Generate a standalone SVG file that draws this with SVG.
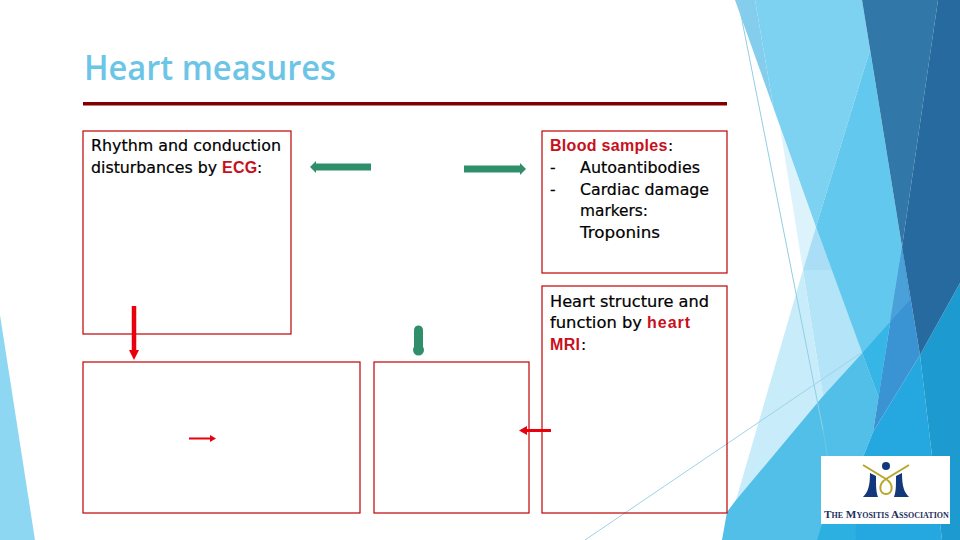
<svg xmlns="http://www.w3.org/2000/svg" width="960" height="540" viewBox="0 0 960 540">
<style>
text{font-family:"DejaVu Sans","Liberation Sans",sans-serif}
.b{font-size:15.5px;fill:#000;stroke:#000;stroke-width:.2}
.r{font-family:"Liberation Sans",sans-serif;font-size:16px;letter-spacing:.3px;fill:#c8101c;font-weight:700}
.box{fill:none;stroke:#c00000;stroke-width:1.2}
.g{stroke:#2f8f6b;fill:none}
.gh{fill:#2f8f6b}
.red{stroke:#e8000d;fill:none}
.redh{fill:#e8000d}
</style>
<rect width="960" height="540" fill="#fff"/>
<g id="background">
<polygon points="0,315 35,540 0,540" fill="#8dd7f2"/>
<polygon points="780,127 816,227 803,270" fill="#dcf3fb"/>
<polygon points="803,270 816,227 832,270" fill="#a9def6"/>
<polygon points="803,270 832,270 863,353 823,396" fill="#b4e4f8"/>
<polygon points="803,270 823,396 736,500" fill="#c8ecf9"/>
<polygon points="735,0 755,0 773.500,108" fill="#84cdec"/>
<polygon points="755,0 862,0 870,50 816,227 773.500,108" fill="#7dd2f1"/>
<polygon points="870,50 902,247 878.500,397 816,227" fill="#62c8ee"/>
<polygon points="862.300,353 890,322 878.500,397" fill="#35b6e6"/>
<polygon points="862.300,353 878.500,397 873,432 860,465 855,540 722,540 727,512 736,500 823,396" fill="#52bfe9"/>
<polygon points="822,524 817,540 855,540 858,524" fill="#2cb0e2"/>
<polygon points="920,355 942,540 855,540 860,465 873,432" fill="#25a8df"/>
<polygon points="902,247 920,355 873,432" fill="#3a93d2"/>
<polygon points="902,247 910,300 890,322" fill="#4aa0d9"/>
<polygon points="920,355 960,283 960,540 942,540" fill="#1d9bd0"/>
<polygon points="862,0 938,0 902,247" fill="#3178a8"/>
<polygon points="938,0 960,0 960,283 920,355 902,247" fill="#266a9f"/>
<line x1="738" y1="0" x2="823" y2="430" stroke="#8fcfe4" stroke-width="1"/>
<line x1="823" y1="430" x2="835" y2="500" stroke="#6fc6e6" stroke-width="1"/>
<line x1="585" y1="540" x2="861" y2="353" stroke="#9dd3e6" stroke-width="1"/>
</g>
<g id="title">
<text x="84" y="80" style="font-size:34px;font-weight:600;fill:#6cc5e6;font-family:'Open Sans','DejaVu Sans',sans-serif" textLength="252" lengthAdjust="spacingAndGlyphs">Heart measures</text>
<rect x="83" y="102" width="644" height="3.500" fill="#7f0000"/>
</g>
<g id="node-ecg">
<rect class="box" x="83" y="131" width="208" height="203"/>
<text class="b" x="91" y="151" textLength="190" lengthAdjust="spacingAndGlyphs">Rhythm and conduction</text>
<text class="b" x="91" y="173" textLength="126" lengthAdjust="spacingAndGlyphs">disturbances by</text>
<text class="r" x="222" y="173">ECG</text>
<text class="b" x="257" y="173">:</text>
</g>
<g id="node-blood">
<rect class="box" x="542" y="131" width="185" height="142"/>
<text class="r" x="550" y="151">Blood samples</text>
<text class="b" x="668" y="151">:</text>
<text class="b" x="550" y="173">-</text>
<text class="b" x="580" y="173" textLength="120" lengthAdjust="spacingAndGlyphs">Autoantibodies</text>
<text class="b" x="550" y="195">-</text>
<text class="b" x="580" y="195" textLength="129" lengthAdjust="spacingAndGlyphs">Cardiac damage</text>
<text class="b" x="580" y="216" textLength="68" lengthAdjust="spacingAndGlyphs">markers:</text>
<text class="b" x="580" y="238" textLength="80" lengthAdjust="spacingAndGlyphs">Troponins</text>
</g>
<g id="node-mri">
<rect class="box" x="542" y="286" width="185" height="227"/>
<text class="b" x="550" y="307" textLength="159" lengthAdjust="spacingAndGlyphs">Heart structure and</text>
<text class="b" x="550" y="328" textLength="92" lengthAdjust="spacingAndGlyphs">function by</text>
<text class="r" x="647" y="328" style="letter-spacing:1px">heart</text>
<text class="r" x="550" y="350">MRI</text>
<text class="b" x="581" y="350">:</text>
</g>
<g id="node-bottom-left"><rect class="box" x="83" y="362" width="277" height="151"/></g>
<g id="node-bottom-middle"><rect class="box" x="374" y="362" width="155" height="151"/></g>
<g id="connectors">
<line class="g" x1="371" y1="167" x2="315" y2="167" stroke-width="7"/>
<polygon class="gh" points="310,167 316,161 316,173"/>
<line class="g" x1="464" y1="169" x2="521" y2="169" stroke-width="7"/>
<polygon class="gh" points="526,169 520,163 520,175"/>
<line class="g" x1="418.500" y1="330" x2="418.500" y2="350" stroke-width="9" stroke-linecap="round"/>
<circle class="gh" cx="418.500" cy="350" r="5.500"/>
<line class="red" x1="134" y1="306" x2="134" y2="351" stroke-width="4.500"/>
<polygon class="redh" points="134,360 129,350 139,350"/>
<line class="red" x1="189" y1="438.500" x2="211" y2="438.500" stroke-width="2"/>
<polygon class="redh" points="216,438.500 210,435 210,442"/>
<line class="red" x1="525" y1="430.500" x2="551" y2="430.500" stroke-width="3"/>
<polygon class="redh" points="519,430.500 527,426 527,435"/>
</g>
<g id="logo">
<rect x="821" y="456" width="129" height="68" fill="#fff"/>
<circle cx="886" cy="466" r="4" fill="#12377a"/>
<path d="M870,473L876,476C876,486 876,492 878,497H863C868,492 870,486 870,473ZM902,473L896,476C896,486 896,492 894,497H909C904,492 902,486 902,473Z" fill="#12377a"/>
<path d="M863,465L886,479C895,485 892,494 886,494C880,494 877,485 886,479L909,465" fill="none" stroke="#b8a52a" stroke-width="2"/>
<text x="824" y="518" style="font-family:'Liberation Serif',serif;font-size:11.200px;fill:#1c2f5e;font-weight:700;font-variant:small-caps">The Myositis Association</text>
</g>
</svg>
